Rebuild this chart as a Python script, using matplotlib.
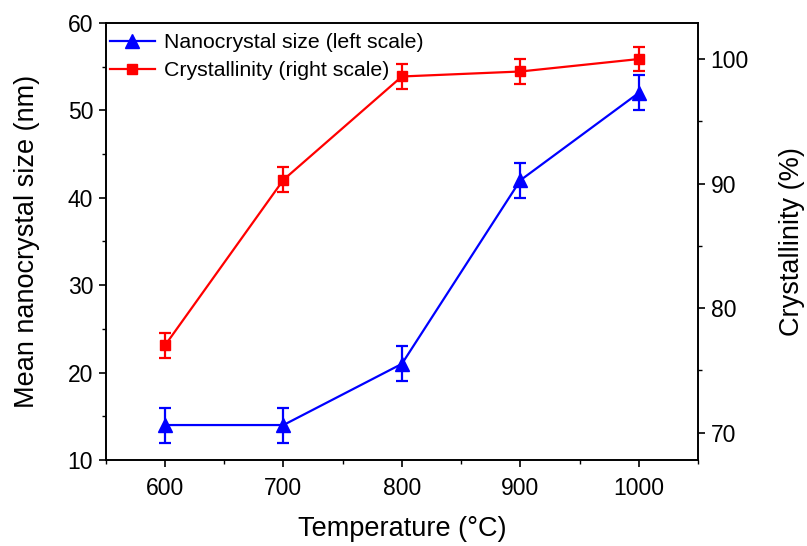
import matplotlib
matplotlib.use("Agg")
import matplotlib.pyplot as plt
from matplotlib.ticker import MultipleLocator
from matplotlib.lines import Line2D

plt.rcParams['font.family'] = ['Liberation Sans', 'DejaVu Sans']

temperature = [600, 700, 800, 900, 1000]
size_nm = [14, 14, 21, 42, 52]
size_err = [2, 2, 2, 2, 2]
crystallinity = [77.0, 90.3, 98.6, 99.0, 100.0]
cryst_err = [1.0, 1.0, 1.0, 1.0, 1.0]

blue = '#0000ff'
red = '#ff0000'

fig = plt.figure(figsize=(8.07, 5.46), dpi=100)
ax = fig.add_axes([0.131, 0.1575, 0.734, 0.8005])
ax2 = ax.twinx()
ax.set_zorder(ax2.get_zorder() + 1)
ax.patch.set_visible(False)

ax.errorbar(temperature, size_nm, yerr=size_err, color=blue, marker='^',
            markersize=10, lw=1.6, elinewidth=1.6, capsize=4.5, capthick=1.6)
ax2.errorbar(temperature, crystallinity, yerr=cryst_err, color=red, marker='s',
             markersize=7.5, lw=1.6, elinewidth=1.6, capsize=4.5, capthick=1.6)

ax.set_xlim(550, 1050)
ax.set_ylim(10, 60)
ax2.set_ylim(67.8, 102.9)

ax.xaxis.set_major_locator(MultipleLocator(100))
ax.xaxis.set_minor_locator(MultipleLocator(50))
ax.yaxis.set_major_locator(MultipleLocator(10))
ax.yaxis.set_minor_locator(MultipleLocator(5))
ax2.yaxis.set_major_locator(MultipleLocator(10))
ax2.yaxis.set_minor_locator(MultipleLocator(5))

for a in (ax, ax2):
    for s in a.spines.values():
        s.set_linewidth(1.2)
    a.tick_params(which='major', direction='out', length=5, width=1.2, labelsize=16.5, pad=4)
    a.tick_params(which='minor', direction='out', length=3, width=1.0)
ax.tick_params(axis='x', which='major', pad=7)

ax.set_xlabel('Temperature (°C)', fontsize=19.5, labelpad=12)
ax.set_ylabel('Mean nanocrystal size (nm)', fontsize=19.5, labelpad=20)
ax2.set_ylabel('Crystallinity (%)', fontsize=19.5, labelpad=22)

handles = [
    Line2D([], [], color=blue, marker='^', markersize=10, lw=1.6),
    Line2D([], [], color=red, marker='s', markersize=7.5, lw=1.6),
]
labels = ['Nanocrystal size (left scale)', 'Crystallinity (right scale)']
ax.legend(handles, labels, loc='upper left', bbox_to_anchor=(0.0, 0.986),
          frameon=False, fontsize=15.3, handlelength=2.1, handletextpad=0.45,
          labelspacing=0.41, borderaxespad=0.0, borderpad=0.2)

fig.savefig('out.png', dpi=100)
